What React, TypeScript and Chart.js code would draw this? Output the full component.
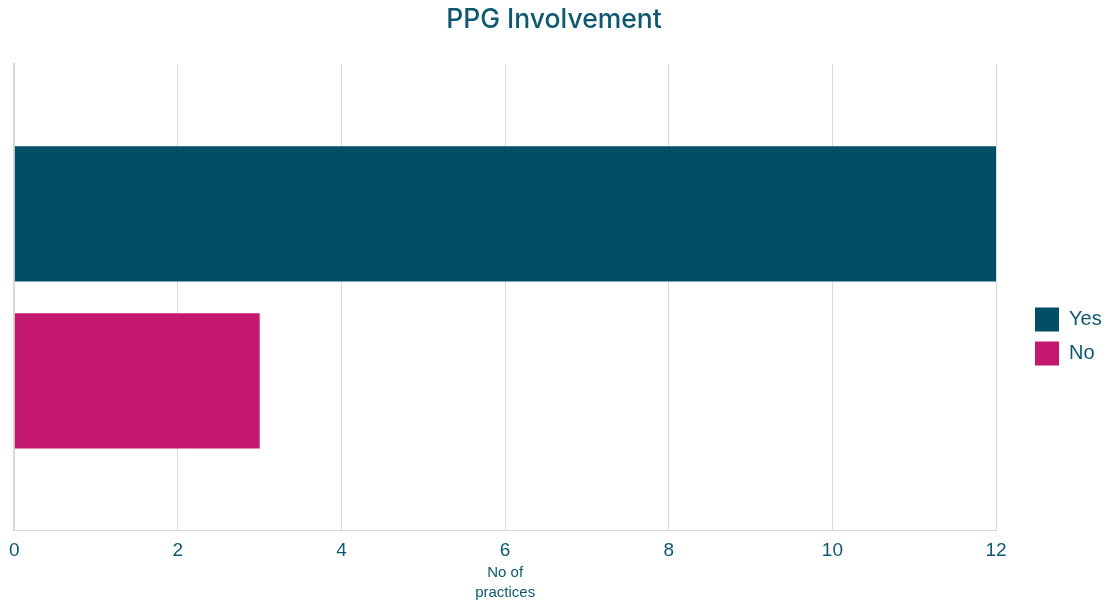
import React, { useEffect, useRef } from "react";
import { Chart, registerables } from "chart.js";
Chart.register(...registerables);

const categories = [""];
const seriesNames = ["Yes", "No"];
const yesValues = [12];
const noValues = [3];
const xTicks = [0, 2, 4, 6, 8, 10, 12];

const TEAL = "#004f66";
const MAGENTA = "#c4186e";
const TEXT = "#0e5870";

const legendPlacer = {
  id: "legendPlacer",
  beforeLayout(chart: any) {
    const lg = chart.legend;
    if (lg && !lg._patched) {
      const orig = lg.fit.bind(lg);
      lg.fit = function () {
        orig();
        this.width = 112;
      };
      lg._patched = true;
    }
  },
  afterLayout(chart: any) {
    const lg = chart.legend;
    if (!lg) return;
    lg.left += 29;
    lg.right += 29;
    lg.top += 36;
    lg.bottom += 36;
  },
};

export default function App() {
  const ref = useRef<HTMLCanvasElement | null>(null);
  useEffect(() => {
    document.body.style.margin = "0";
    const chart = new Chart(ref.current!, {
      type: "bar",
      data: {
        labels: categories,
        datasets: [
          { label: seriesNames[0], data: yesValues, backgroundColor: TEAL, borderWidth: 0, barPercentage: 0.81, categoryPercentage: 0.716 },
          { label: seriesNames[1], data: noValues, backgroundColor: MAGENTA, borderWidth: 0, barPercentage: 0.81, categoryPercentage: 0.716 },
        ],
      },
      options: {
        indexAxis: "y",
        animation: false,
        responsive: false,
        layout: { padding: { left: 0, right: 0, top: 0, bottom: 0 } },
        plugins: {
          title: {
            display: true,
            text: "PPG Involvement",
            color: TEXT,
            font: { family: "Inter", size: 26.5, weight: "500", lineHeight: 1.2 },
            padding: { top: 4, bottom: 28.2 },
          },
          legend: {
            position: "right",
            labels: {
              color: TEXT,
              boxWidth: 24,
              boxHeight: 24,
              padding: 10,
              font: { family: "Liberation Sans", size: 20 },
            },
          },
          tooltip: { enabled: false },
        },
        scales: {
          x: {
            min: 0,
            max: 12,
            afterBuildTicks: (axis: any) => {
              axis.ticks = xTicks.map((v) => ({ value: v }));
            },
            ticks: { color: TEXT, font: { family: "Liberation Sans", size: 19 }, padding: 9 },
            grid: { color: "#d9d9d9", drawTicks: false },
            border: { color: "#d9d9d9" },
            title: {
              display: true,
              text: ["No of", "practices"],
              color: TEXT,
              font: { family: "Liberation Sans", size: 15, lineHeight: 1.3 },
              padding: { top: -8, bottom: -1.5 },
            },
          },
          y: {
            afterFit: (axis: any) => {
              axis.width = 14;
            },
            ticks: { display: false },
            grid: { display: false, drawTicks: false },
            border: { color: "#d9d9d9", width: 2 },
          },
        },
      },
      plugins: [legendPlacer],
    });
    return () => chart.destroy();
  }, []);
  return (
    <div style={{ width: 1108, height: 601 }}>
      <canvas ref={ref} width={1108} height={601} />
    </div>
  );
}
